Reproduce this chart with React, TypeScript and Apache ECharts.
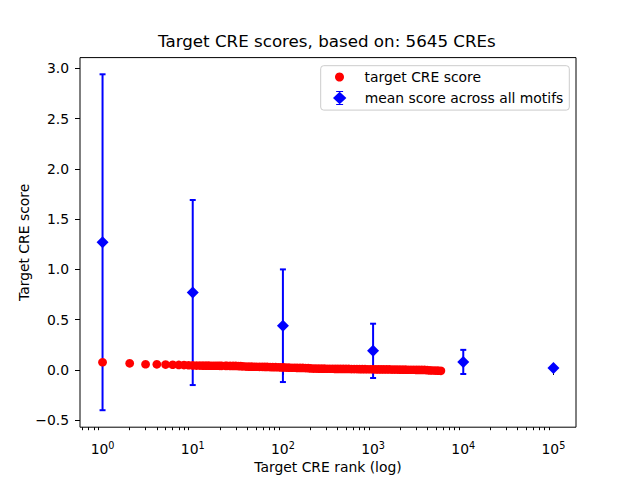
import React, { useEffect, useRef } from "react";
import * as echarts from "echarts";

const chartTitle = "Target CRE scores, based on: 5645 CREs";
const xAxisName = "Target CRE rank (log)";
const yAxisName = "Target CRE score";
const seriesNames = ["target CRE score", "mean score across all motifs"];

// red points: rank -> score (sampled along the dense run of 5645 CREs)
const creRanks = [
  1, 2, 3, 4, 5, 6, 7, 8, 9,
  10, 11, 12, 13, 14, 15, 16, 17, 18, 19, 20, 21, 23, 24, 26, 28, 30, 32, 34, 36,
  39, 42, 45, 48, 51, 55, 59, 63, 67, 72, 77, 83, 89,
  95, 102, 109, 117, 126, 135, 144, 155, 166, 178, 191,
  204, 219, 234, 251, 269, 288, 309, 331, 355, 380, 407, 437, 468, 501, 537, 575, 617, 661,
  708, 759, 813, 871, 933, 1000, 1072, 1148, 1230, 1318, 1413, 1514, 1622, 1738, 1862, 1995,
  2138, 2291, 2455, 2630, 2818, 3020, 3236, 3467, 3715, 3981,
  4266, 4571, 4898, 5248, 5645,
];
const creScores = [
  0.077, 0.066, 0.057, 0.056, 0.054, 0.052, 0.05, 0.049, 0.047,
  0.045, 0.044, 0.044, 0.043, 0.043, 0.043, 0.042, 0.042, 0.042, 0.042, 0.041, 0.041, 0.041,
  0.041, 0.04, 0.04, 0.04, 0.039, 0.038, 0.036,
  0.034, 0.033, 0.033, 0.032, 0.032, 0.031, 0.031, 0.03, 0.03, 0.029, 0.028, 0.028, 0.027,
  0.026, 0.025, 0.024, 0.023, 0.022, 0.022, 0.021, 0.02, 0.02, 0.019, 0.018,
  0.015, 0.014, 0.014, 0.013, 0.013, 0.013, 0.012, 0.012, 0.012, 0.011, 0.011, 0.011, 0.01,
  0.01, 0.01, 0.009, 0.009, 0.009, 0.008, 0.008, 0.008, 0.007, 0.007, 0.007, 0.006, 0.006,
  0.006, 0.005, 0.005, 0.005, 0.004, 0.004, 0.004, 0.003,
  0.003, 0.003, 0.002, 0.002, 0.002, 0.001, 0.001, 0.0, 0.0, -0.002,
  -0.004, -0.005, -0.006, -0.007, -0.008,
];

// blue diamonds with symmetric error bars
const motifRanks = [1, 10, 100, 1000, 10000, 100000];
const motifMeans = [1.27, 0.77, 0.44, 0.19, 0.08, 0.02];
const motifErrors = [1.67, 0.92, 0.56, 0.27, 0.12, 0];

// axes
const xTickValues = [1, 10, 100, 1000, 10000, 100000];
const xMinorTickValues = [
  0.6, 0.7, 0.8, 0.9,
  2, 3, 4, 5, 6, 7, 8, 9,
  20, 30, 40, 50, 60, 70, 80, 90,
  200, 300, 400, 500, 600, 700, 800, 900,
  2000, 3000, 4000, 5000, 6000, 7000, 8000, 9000,
  20000, 30000, 40000, 50000, 60000, 70000, 80000, 90000,
];
const yTickValues = [-0.5, 0, 0.5, 1, 1.5, 2, 2.5, 3];
const xMin = 0.5623;
const xMax = 177828;
const yMin = -0.569;
const yMax = 3.106;

const FONT = "DejaVu Sans";
const RED = "#ff0000";
const BLUE = "#0000ff";
const errIcon =
  "path://M0 66L63 6L127 66L63 126Z M58 0H68V133H58Z M30 0H96V10H30Z M30 123H96V133H30Z";

export default function App() {
  const ref = useRef<HTMLDivElement>(null);

  useEffect(() => {
    if (!ref.current) return;
    const chart = echarts.init(ref.current, null, { renderer: "svg" });

    const creData = creRanks.map((r, i) => [r, creScores[i]]);
    const motifData = motifRanks.map((r, i) => [r, motifMeans[i]]);
    const errData = motifRanks.map((r, i) => [r, motifMeans[i], motifErrors[i]]);

    const tickLine = { color: "#000", width: 1 };
    const labelStyle = { color: "#000", fontFamily: FONT, fontSize: 13.9 };

    chart.setOption({
      animation: false,
      textStyle: { fontFamily: FONT, color: "#000" },
      title: {
        text: chartTitle,
        left: 153,
        top: 27,
        padding: 5,
        textStyle: { fontFamily: FONT, fontSize: 16.7, fontWeight: "normal", color: "#000" },
      },
      grid: {
        left: 80,
        top: 57.6,
        width: 496,
        height: 369.6,
        show: true,
        borderColor: "#000",
        borderWidth: 1,
        backgroundColor: "transparent",
        outerBoundsMode: "none",
      },
      xAxis: [
        {
          type: "log",
          logBase: 10,
          min: xMin,
          max: xMax,
          name: xAxisName,
          nameLocation: "middle",
          nameGap: 33,
          nameMoveOverlap: false,
          nameTextStyle: { ...labelStyle },
          axisLine: { show: false },
          splitLine: { show: false },
          axisTick: { show: true, length: 5, lineStyle: tickLine, customValues: xTickValues },
          axisLabel: {
            margin: 13,
            customValues: xTickValues,
            formatter: (v: number) => `{b|10}{s|${Math.round(Math.log10(v))}}`,
            rich: {
              b: { fontFamily: FONT, fontSize: 13.9, color: "#000", lineHeight: 16, verticalAlign: "bottom" },
              s: { fontFamily: FONT, fontSize: 9.7, color: "#000", lineHeight: 12, verticalAlign: "top" },
            },
          },
        },
        {
          type: "log",
          logBase: 10,
          min: xMin,
          max: xMax,
          position: "bottom",
          axisLine: { show: false },
          splitLine: { show: false },
          axisLabel: { show: false },
          axisTick: { show: true, length: 3, lineStyle: tickLine, customValues: xMinorTickValues },
        },
      ],
      yAxis: {
        type: "value",
        min: yMin,
        max: yMax,
        name: yAxisName,
        nameLocation: "middle",
        nameGap: 49,
        nameMoveOverlap: false,
        nameRotate: 90,
        nameTextStyle: { ...labelStyle },
        axisLine: { show: false },
        splitLine: { show: false },
        axisTick: { show: true, length: 5, lineStyle: tickLine, customValues: yTickValues },
        axisLabel: {
          ...labelStyle,
          margin: 11,
          customValues: yTickValues,
          formatter: (v: number) => (v < 0 ? "\u2212" : "") + Math.abs(v).toFixed(1),
        },
      },
      legend: [
        {
          data: [{ name: seriesNames[0], icon: "circle" }],
          left: 335,
          top: 70,
          padding: 0,
          itemWidth: 40,
          itemHeight: 9,
          selectedMode: false,
          z: 20,
          textStyle: { ...labelStyle },
        },
        {
          data: [{ name: seriesNames[1], icon: errIcon }],
          left: 333,
          top: 91,
          padding: 0,
          itemWidth: 40,
          itemHeight: 14,
          selectedMode: false,
          z: 20,
          textStyle: { ...labelStyle },
        },
      ],
      graphic: [
        {
          type: "rect",
          z: 15,
          shape: { x: 320.7, y: 65.7, width: 248.6, height: 44.4, r: 3 },
          style: { fill: "rgba(255,255,255,0.8)", stroke: "#cccccc", lineWidth: 1 },
        },
      ],
      series: [
        {
          name: "errorbars",
          type: "custom",
          z: 1,
          silent: true,
          data: errData,
          encode: { x: 0, y: 1 },
          renderItem: (_params: any, api: any) => {
            const x = api.value(0);
            const m = api.value(1);
            const e = api.value(2);
            const top = api.coord([x, m + e]);
            const bot = api.coord([x, m - e]);
            const cw = 3;
            const style = { stroke: BLUE, lineWidth: 2, fill: null };
            return {
              type: "group",
              children: [
                { type: "line", shape: { x1: top[0], y1: top[1], x2: bot[0], y2: bot[1] }, style },
                { type: "line", shape: { x1: top[0] - cw, y1: top[1], x2: top[0] + cw, y2: top[1] }, style },
                { type: "line", shape: { x1: bot[0] - cw, y1: bot[1], x2: bot[0] + cw, y2: bot[1] }, style },
              ],
            };
          },
        },
        {
          name: seriesNames[1],
          type: "scatter",
          z: 2,
          silent: true,
          symbol: "diamond",
          symbolSize: 12,
          itemStyle: { color: BLUE, opacity: 1 },
          data: motifData,
        },
        {
          name: seriesNames[0],
          type: "scatter",
          z: 3,
          silent: true,
          symbol: "circle",
          symbolSize: 8.7,
          itemStyle: { color: RED, opacity: 1 },
          data: creData,
        },
      ],
    });

    return () => chart.dispose();
  }, []);

  return (
    <div
      ref={ref}
      style={{ position: "fixed", left: 0, top: 0, width: 640, height: 480, background: "#fff" }}
    />
  );
}
